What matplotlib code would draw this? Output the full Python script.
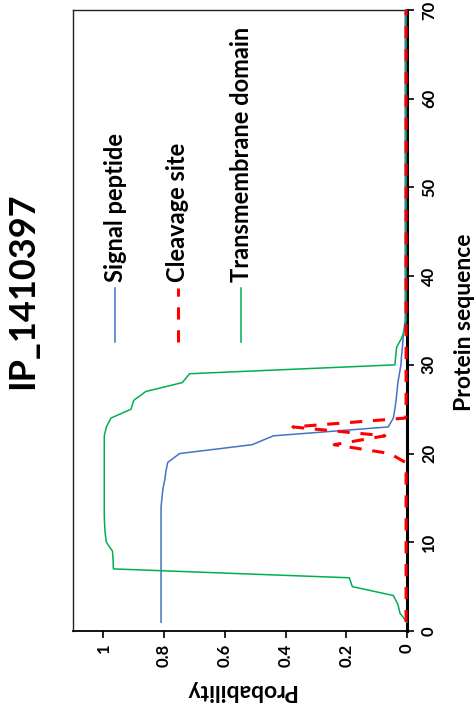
import matplotlib
matplotlib.use("Agg")
import matplotlib.pyplot as plt
import numpy as np

# Per-residue prediction probabilities (residues 1..70)
positions = list(range(1, 71))

signal_peptide = ([0.81] * 14 +
                  [0.807, 0.804, 0.798, 0.794, 0.788, 0.749, 0.51, 0.44, 0.062, 0.045,
                   0.04, 0.036, 0.033, 0.03, 0.025, 0.02, 0.018, 0.015, 0.013, 0.01] +
                  [0.006] * 36)

cleavage_site = ([0.003] * 18 +
                 [0.005, 0.056, 0.24, 0.073, 0.376, 0.005] +
                 [0.003] * 46)

transmembrane = ([0.0, 0.023, 0.03, 0.045, 0.18, 0.19, 0.967, 0.968, 0.97, 0.99,
                  0.994, 0.996] +
                 [0.997] * 10 +
                 [0.99, 0.975, 0.909, 0.90, 0.86, 0.74, 0.716, 0.04, 0.037, 0.034,
                  0.018, 0.007] +
                 [0.003] * 36)

series_names = ["Signal peptide", "Cleavage site", "Transmembrane domain"]
prob_ticks = [0, 0.2, 0.4, 0.6, 0.8, 1]
prob_ticklabels = ["0", "0.2", "0.4", "0.6", "0.8", "1"]
seq_ticks = [0, 10, 20, 30, 40, 50, 60, 70]
title = "IP_1410397"

FONT = "Lato"
plt.rcParams["font.family"] = [FONT, "DejaVu Sans"]
plt.rcParams["font.weight"] = "bold"

BLUE = "#4472C4"
RED = "#FF0000"
GREEN = "#00B050"

W, H = 477, 706
fig = plt.figure(figsize=(W / 100, H / 100), dpi=100)
ax = fig.add_axes([73 / W, 1 - 631 / H, 334 / W, 621 / H])

# The chart is laid out sideways: probability runs horizontally (1 on the left),
# sequence position runs vertically with its axis on the right.
ax.plot(signal_peptide, positions, color=BLUE, lw=1.1, clip_on=False, zorder=3)
ax.plot(cleavage_site, positions, color=RED, lw=2.2, dashes=(4, 3.5),
        clip_on=False, zorder=4)
ax.plot(transmembrane, positions, color=GREEN, lw=1.1, clip_on=False, zorder=3)

ax.set_xlim(1.1, 0)
ax.set_ylim(0, 70)

ax.set_xticks(prob_ticks)
ax.set_xticklabels(prob_ticklabels, rotation=90)
ax.set_yticks(seq_ticks)
ax.yaxis.tick_right()
ax.tick_params(axis="x", direction="out", length=5, width=1.2, pad=4, labelsize=12)
ax.tick_params(axis="y", direction="out", length=5, width=1.2, pad=5, labelsize=12,
               labelrotation=90)
for lab in ax.get_yticklabels():
    lab.set_verticalalignment("center")
for lab in ax.get_xticklabels() + ax.get_yticklabels():
    lab.set_fontweight("bold")

for side in ("left", "top"):
    ax.spines[side].set_linewidth(1.0)
    ax.spines[side].set_color("#222222")
ax.spines["bottom"].set_linewidth(1.3)
ax.spines["right"].set_linewidth(2.2)
ax.spines["right"].set_zorder(2)

# Legend, drawn upright for the sideways layout
styles = [dict(color=BLUE, lw=1.1), dict(color=RED, lw=2.2, dashes=(4, 3.5)),
          dict(color=GREEN, lw=1.1)]
leg_x = [0.126, 0.314, 0.503]
for name, st, lx in zip(series_names, styles, leg_x):
    ax.plot([lx, lx], [0.465, 0.552], transform=ax.transAxes, **st)
    ax.text(lx, 0.562, name, transform=ax.transAxes, rotation=90,
            ha="center", va="bottom", fontsize=17, fontweight="bold")

fig.text(23 / W, 1 - 291 / H, title, rotation=90, ha="center", va="center",
         fontsize=26, fontweight="bold")
fig.text(465 / W, 1 - 322 / H, "Protein sequence", rotation=90, ha="center",
         va="center", fontsize=16.5, fontweight="bold")
fig.text(240 / W, 1 - 690 / H, "Probability", rotation=180, ha="center",
         va="center", fontsize=16.5, fontweight="bold")

fig.savefig("out.png", dpi=100)
